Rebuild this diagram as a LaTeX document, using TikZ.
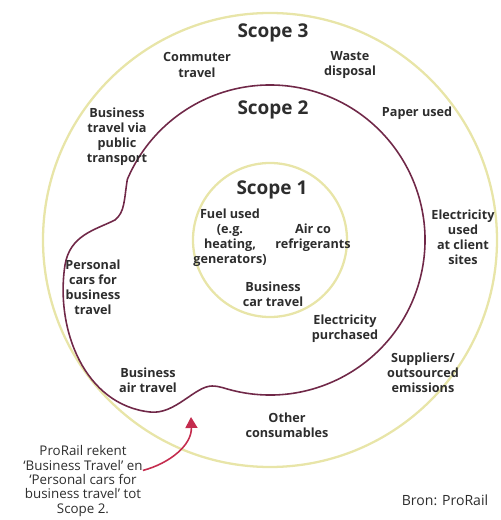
\documentclass[tikz,border=0pt]{standalone}
\usepackage{fontspec}
\setmainfont{Open Sans}
\usepackage{tikz}
\usetikzlibrary{arrows.meta, positioning, calc}
\definecolor{ringyellow}{RGB}{232, 229, 168}
\definecolor{scopemaroon}{RGB}{112, 40, 72}
\definecolor{pointerred}{RGB}{196, 44, 78}
\definecolor{labelgray}{RGB}{45, 45, 45}
\tikzset{
    ring/.style={draw=ringyellow, line width=1.3pt},
    scopeline/.style={draw=scopemaroon, line width=0.9pt},
    heading/.style={font=\bfseries\fontsize{10.8}{12}\selectfont, text=labelgray},
    item/.style={align=center, inner sep=0pt, font=\bfseries\fontsize{7.2}{8.6}\selectfont, text=labelgray},
    note/.style={align=center, inner sep=0pt, font=\fontsize{7.6}{8.2}\selectfont, text=labelgray},
    pointer/.style={draw=pointerred, line width=0.9pt, -{Triangle[length=2.2mm, width=2.4mm]}}
}

\begin{document}
\begin{tikzpicture}[x=0.02cm, y=0.02cm]

    \useasboundingbox (-270,-280) rectangle (230,240);

    % --- RINGS ---
    \draw[ring] (0,0) circle[radius=227];
    \draw[ring] (0,0) circle[radius=77];

    % Scope 2 boundary with the bulge on the left
    \draw[scopeline] (-104:155) arc[start angle=-104, end angle=157, radius=155]
        .. controls (-146,40) and (-145,28) .. (-155,20)
        .. controls (-175,10) and (-200,5) .. (-205,-25)
        .. controls (-215,-90) and (-185,-165) .. (-120,-172)
        .. controls (-95,-175) and (-75,-146) .. (-58,-146)
        .. controls (-50,-146) and (-44,-149) .. (-104:155);

    % --- HEADINGS ---
    \node[heading] (s3) at (3,207) {Scope 3};
    \node[heading] (s2) at (3,130) {Scope 2};
    \node[heading] (s1) at (2,50) {Scope 1};

    % Scope 1 items
    \node[item] (fuel) at (-40,2) {Fuel used\\(e.g.\\heating,\\generators)};
    \node[item] (airco) at (43,2) {Air co\\refrigerants};
    \node[item] (car) at (3,-54) {Business\\car travel};

    % Scope 2 items
    \node[item] (elecp) at (75,-89) {Electricity\\purchased};
    \node[item] (air) at (-122,-140) {Business\\air travel};
    \node[item] (personal) at (-177,-47) {Personal\\cars for\\business\\travel};

    % Scope 3 items
    \node[item] (commuter) at (-73,175) {Commuter\\travel};
    \node[item] (waste) at (80,175) {Waste\\disposal};
    \node[item] (paper) at (147,127) {Paper used};
    \node[item] (public) at (-153,103) {Business\\travel via\\public\\transport};
    \node[item] (elecc) at (193,3) {Electricity\\used\\at client\\sites};
    \node[item] (suppliers) at (153,-133) {Suppliers/\\outsourced\\emissions};
    \node[item] (other) at (17,-185) {Other\\consumables};

    % --- NOTE AND SOURCE ---
    \node[note] (remark) at (-187,-241) {ProRail rekent\\`Business Travel' en\\`Personal cars for\\business travel' tot\\Scope 2.};
    \coordinate (tip) at (-79,-177);
    \draw[pointer] ([yshift=6]remark.east) to[out=15, in=-88] (tip);
    \node[note, font=\fontsize{8}{9.6}\selectfont] (source) at (175,-260) {Bron: ProRail};

\end{tikzpicture}
\end{document}
